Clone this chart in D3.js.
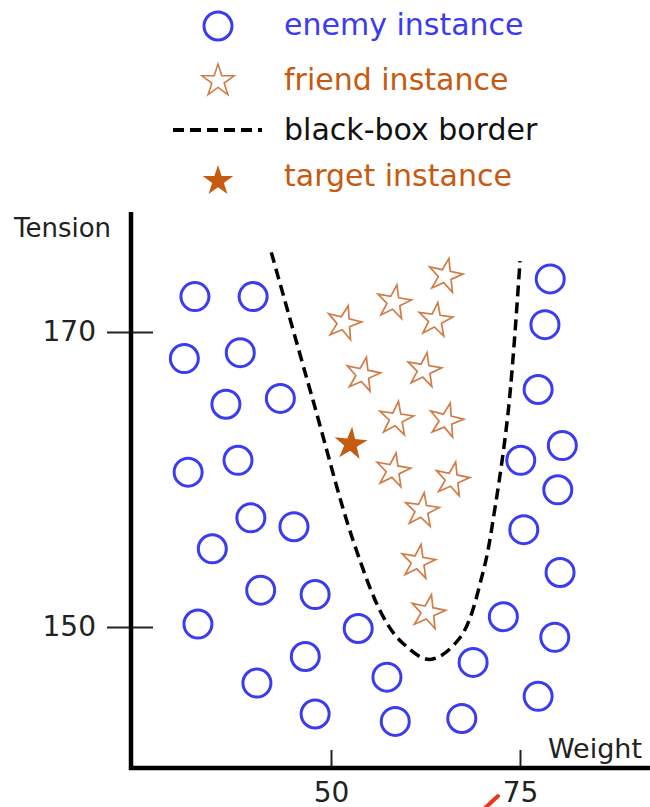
<!DOCTYPE html>
<html>
<head>
  <script src="https://cdnjs.cloudflare.com/ajax/libs/d3/7.8.5/d3.min.js"></script>
  <style>
    body { margin: 0; background: #fff; }
    svg { display: block; font-family: "DejaVu Sans", Verdana, sans-serif; }
  </style>
</head>
<body>
<svg id="chart" width="650" height="807"></svg>
<script>
// enemy instances (weight, tension)
var enemyWeight  = [32.0, 39.7, 30.6, 38.0, 36.1, 43.3, 31.1, 37.7, 39.4, 45.1, 34.3, 40.7, 47.9, 32.4, 53.6, 46.6, 40.2, 57.4, 47.9, 58.5, 67.3, 68.8, 72.8, 79.6, 77.4, 80.3, 75.5, 80.0, 75.1, 80.6, 77.4, 78.3, 79.0];
var enemyTension = [172.4, 172.4, 168.2, 168.6, 165.1, 165.5, 160.5, 161.3, 157.4, 156.8, 155.3, 152.5, 152.2, 150.2, 149.9, 148.0, 146.2, 146.6, 144.1, 143.6, 143.8, 147.6, 150.7, 149.3, 145.3, 153.7, 156.6, 159.3, 161.3, 162.3, 166.1, 170.5, 173.6];

// friend instances
var friendWeight  = [65.1, 58.3, 51.7, 63.8, 54.2, 62.3, 58.6, 65.2, 58.2, 66.0, 62.0, 61.5, 62.8];
var friendTension = [173.8, 172.0, 170.6, 170.8, 167.1, 167.4, 164.1, 164.0, 160.6, 160.0, 157.9, 154.4, 151.0];

// target instance
var targetWeight = 52.6;
var targetTension = 162.4;

// black-box border
var borderWeight  = [42.1, 47.6, 52.9, 56.9, 59.5, 63.1, 67.1, 70.1, 71.7, 73.5, 75.0];
var borderTension = [175.4, 165.4, 155.9, 150.7, 148.9, 147.8, 149.3, 153.7, 158.1, 164.9, 174.8];

var weightTicks = [50, 75];
var tensionTicks = [150, 170];

var legendLabels = ["enemy instance", "friend instance", "black-box border", "target instance"];

var blue = "#3b3bef", orange = "#c55a11", friendStroke = "#d27c45";

var svg = d3.select("#chart");

var x = d3.scaleLinear().domain([50, 75]).range([331, 520]);
var y = d3.scaleLinear().domain([150, 170]).range([627, 332]);

var starTilt = [12, 10, 14, 8, 12, 10, 8, 14, 10, 12, 8, 10, 12];
var star = d3.symbol().type(d3.symbolStar).size(360);
var circleR = 14;

// axes
var yAxis = svg.append("g")
  .attr("transform", "translate(131,0)")
  .call(d3.axisLeft(y).tickValues(tensionTicks).tickSize(0).tickPadding(35));
yAxis.select(".domain").remove();
yAxis.selectAll(".tick line").attr("x1", -24).attr("x2", 22).attr("stroke", "#222").attr("stroke-width", 2);
yAxis.selectAll(".tick text").attr("font-size", 28).attr("fill", "#222").attr("font-family", "DejaVu Sans, Verdana, sans-serif");

var xAxis = svg.append("g")
  .attr("transform", "translate(0,768)")
  .call(d3.axisBottom(x).tickValues(weightTicks).tickSize(0));
xAxis.select(".domain").remove();
xAxis.selectAll(".tick line").attr("y1", -18).attr("y2", 2).attr("stroke", "#222").attr("stroke-width", 2);
xAxis.selectAll(".tick text").attr("y", 34).attr("dy", 0).attr("font-size", 28).attr("fill", "#222").attr("font-family", "DejaVu Sans, Verdana, sans-serif");

svg.append("path")
  .attr("d", "M131,212 V768 H650")
  .attr("fill", "none")
  .attr("stroke", "#000")
  .attr("stroke-width", 4.5);

svg.append("text").attr("x", 14).attr("y", 237).attr("font-size", 26).attr("fill", "#222").text("Tension");
svg.append("text").attr("x", 548).attr("y", 758).attr("font-size", 27).attr("fill", "#222").text("Weight");

// border
var border = d3.range(borderWeight.length).map(function(i) { return [x(borderWeight[i]), y(borderTension[i])]; });
svg.append("path")
  .attr("d", d3.line().curve(d3.curveCatmullRom)(border))
  .attr("fill", "none")
  .attr("stroke", "#000")
  .attr("stroke-width", 3.5)
  .attr("stroke-dasharray", "11,6");

// enemies
svg.selectAll(".enemy")
  .data(enemyWeight)
  .enter().append("circle")
  .attr("class", "enemy")
  .attr("cx", function(d) { return x(d); })
  .attr("cy", function(d, i) { return y(enemyTension[i]); })
  .attr("r", circleR)
  .attr("fill", "none")
  .attr("stroke", blue)
  .attr("stroke-width", 3);

// friends
svg.selectAll(".friend")
  .data(friendWeight)
  .enter().append("path")
  .attr("class", "friend")
  .attr("d", star)
  .attr("transform", function(d, i) {
    return "translate(" + x(d) + "," + y(friendTension[i]) + ") rotate(" + starTilt[i] + ")";
  })
  .attr("fill", "none")
  .attr("stroke", friendStroke)
  .attr("stroke-width", 1.7);

// target
svg.append("path")
  .attr("d", d3.symbol().type(d3.symbolStar).size(340)())
  .attr("transform", "translate(" + x(targetWeight) + "," + y(targetTension) + ") rotate(5)")
  .attr("fill", orange);

// legend
var legend = svg.append("g");
legend.append("circle").attr("cx", 218).attr("cy", 26).attr("r", circleR)
  .attr("fill", "none").attr("stroke", blue).attr("stroke-width", 3);
legend.append("path").attr("d", d3.symbol().type(d3.symbolStar).size(320)())
  .attr("transform", "translate(218,81)")
  .attr("fill", "none").attr("stroke", friendStroke).attr("stroke-width", 1.6);
legend.append("line").attr("x1", 173).attr("x2", 262).attr("y1", 130).attr("y2", 130)
  .attr("stroke", "#000").attr("stroke-width", 4).attr("stroke-dasharray", "11,6");
legend.append("path").attr("d", d3.symbol().type(d3.symbolStar).size(290)())
  .attr("transform", "translate(218,181)")
  .attr("fill", orange);

var legendColors = [blue, orange, "#111", orange];
var legendY = [35, 90, 140, 186];
legend.selectAll(".lt")
  .data(legendLabels)
  .enter().append("text")
  .attr("class", "lt")
  .attr("x", 284)
  .attr("y", function(d, i) { return legendY[i]; })
  .attr("font-size", 30)
  .attr("fill", function(d, i) { return legendColors[i]; })
  .text(function(d) { return d; });

// red stroke fragment at the bottom edge
svg.append("path")
  .attr("d", "M484,809 L498,796")
  .attr("stroke", "#e5381c")
  .attr("stroke-width", 4)
  .attr("stroke-linecap", "round");
</script>
</body>
</html>
